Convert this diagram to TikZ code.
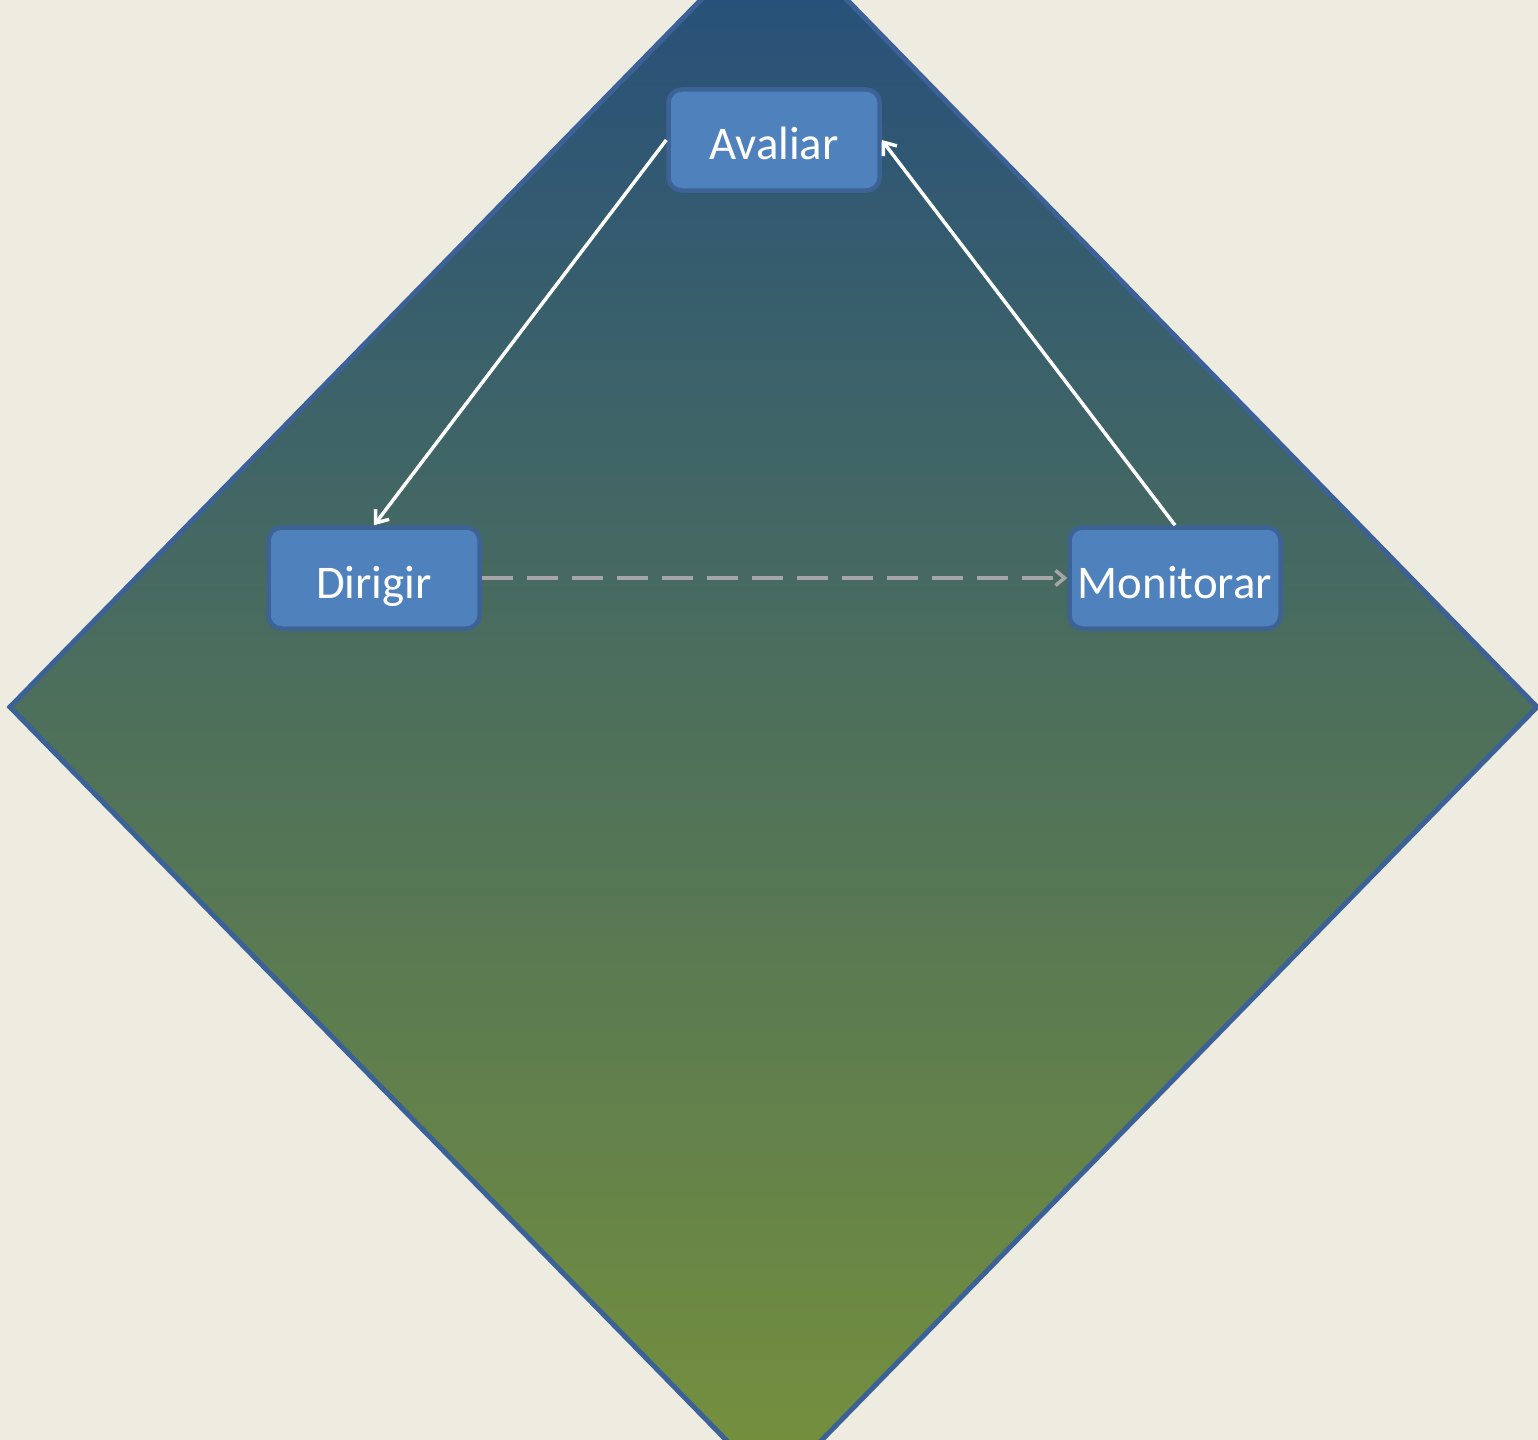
\documentclass[tikz,border=0pt]{standalone}
\usepackage{fontspec}
\setmainfont{Carlito}
\usetikzlibrary{arrows.meta}
\definecolor{bgc}{HTML}{EEECE1}
\definecolor{topc}{HTML}{244E7C}
\definecolor{botc}{HTML}{76913B}
\definecolor{edgec}{HTML}{3B6196}
\definecolor{boxfill}{HTML}{4F81BD}
\definecolor{boxedge}{HTML}{3D6396}
\definecolor{dashc}{HTML}{A6A6A6}
\newcommand{\lowr}[1]{\raisebox{-20bp}[0pt][0pt]{#1}}
\tikzset{
  procbox/.style={draw=boxedge, fill=boxfill, line width=4.5bp, rounded corners=13bp,
    minimum width=211bp, minimum height=101bp, inner sep=0pt, text=white,
    font=\fontsize{47}{52}\selectfont},
  flow/.style={draw=white, line width=3.5bp, -{Straight Barb[length=11bp,width=17bp,line width=3.5bp]}},
  dflow/.style={draw=dashc, line width=3.5bp, dash pattern=on 31bp off 14bp,
    -{Straight Barb[length=9bp,width=15bp,line width=3.5bp]}}
}
\begin{document}
\begin{tikzpicture}[x=1bp,y=-1bp]
\useasboundingbox (0,0) rectangle (1538,1440);
\fill[bgc] (0,0) rectangle (1538,1440);
\begin{scope}
\clip (0,0) rectangle (1538,1440);
\shade[top color=topc, bottom color=botc] (774,-75) -- (1537,707) -- (774,1489) -- (10,707) -- cycle;
\draw[edgec, line width=5bp, line join=miter] (774,-75) -- (1537,707) -- (774,1489) -- (10,707) -- cycle;
\end{scope}
\node[procbox] (aval) at (774,140) {\lowr{Avaliar}};
\node[procbox] (dir) at (374,578) {\lowr{Dirigir}};
\node[procbox] (mon) at (1175,578) {\lowr{Monitorar}};
\draw[flow] (aval.west) -- (dir.north);
\draw[flow] (mon.north) -- (aval.east);
\draw[dflow] (dir.east) -- (mon.west);
\end{tikzpicture}
\end{document}
